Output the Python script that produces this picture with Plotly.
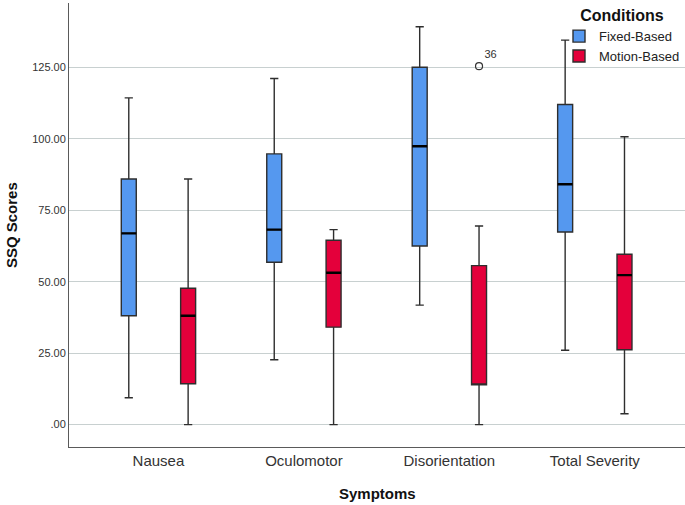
import plotly.graph_objects as go

categories = ["Nausea", "Oculomotor", "Disorientation", "Total Severity"]

fixed_low = [9.4, 22.7, 41.8, 26.0]
fixed_q1 = [38.1, 56.8, 62.5, 67.4]
fixed_median = [66.9, 68.2, 97.4, 84.1]
fixed_q3 = [85.9, 94.7, 125.0, 112.0]
fixed_high = [114.3, 121.1, 139.2, 134.5]

motion_low = [0.0, 0.0, 0.0, 3.8]
motion_q1 = [14.3, 34.1, 13.9, 26.2]
motion_median = [38.1, 53.1, None, 52.3]
motion_q3 = [47.7, 64.5, 55.6, 59.6]
motion_high = [85.9, 68.2, 69.5, 100.7]

outlier_category = 2  # Disorientation, Motion-Based
outlier_value = [125.4]
outlier_label = ["36"]

y_ticks = [0, 25, 50, 75, 100, 125]
y_ticklabels = [".00", "25.00", "50.00", "75.00", "100.00", "125.00"]

BLUE = "#5598ef"
RED = "#e4003b"
EDGE = "#2e2e2e"
OFFSET = 0.204
BOXW = 0.103
FONT = "Liberation Sans, Arial, sans-serif"

idx = list(range(len(categories)))
x_fixed = [i - OFFSET for i in idx]
x_motion = [i + OFFSET for i in idx]
motion_median_box = [m if m is not None else q for m, q in zip(motion_median, motion_q1)]

fig = go.Figure()

common = dict(width=BOXW, whiskerwidth=0.55, boxpoints=False, hoverinfo="skip",
              line=dict(color=EDGE, width=1.4))

fig.add_trace(go.Box(x=x_fixed, q1=fixed_q1, median=fixed_median, q3=fixed_q3,
                     lowerfence=fixed_low, upperfence=fixed_high,
                     fillcolor=BLUE, name="Fixed-Based", **common))
fig.add_trace(go.Box(x=x_motion, q1=motion_q1, median=motion_median_box, q3=motion_q3,
                     lowerfence=motion_low, upperfence=motion_high,
                     fillcolor=RED, name="Motion-Based", **common))

# thicker black median lines
mf_x = x_fixed
mf_y = fixed_median
mm_x = [x for x, m in zip(x_motion, motion_median) if m is not None]
mm_y = [m for m in motion_median if m is not None]
for xs, ys in ((mf_x, mf_y), (mm_x, mm_y)):
    fig.add_trace(go.Box(x=xs, q1=ys, median=ys, q3=ys, lowerfence=ys, upperfence=ys,
                         width=BOXW, whiskerwidth=0, boxpoints=False, hoverinfo="skip",
                         line=dict(color="#000000", width=2.4), fillcolor="rgba(0,0,0,0)",
                         showlegend=False))

fig.add_trace(go.Scatter(x=[outlier_category + OFFSET], y=outlier_value,
                         mode="markers+text", text=outlier_label, textposition="top right",
                         textfont=dict(family=FONT, size=11, color="#333"),
                         marker=dict(symbol="circle-open", size=7, color="#333",
                                     line=dict(width=1.2)),
                         showlegend=False, hoverinfo="skip"))

fig.update_layout(
    width=685, height=505,
    margin=dict(l=69, r=0, t=3, b=58, autoexpand=False),
    paper_bgcolor="white", plot_bgcolor="white",
    font=dict(family=FONT, color="#333"),
    boxmode="overlay",
    xaxis=dict(range=[-0.615, 3.62], tickvals=idx, ticktext=categories, automargin=False,
               showgrid=False, zeroline=False, showline=True, linecolor="#5a5a5a",
               linewidth=1, ticks="", tickfont=dict(family=FONT, size=15, color="#333")),
    yaxis=dict(range=[-7.84, 147.5], tickvals=y_ticks, ticktext=y_ticklabels, automargin=False,
               showgrid=True, gridcolor="#c8d0d0", gridwidth=1, zeroline=False,
               showline=True, linecolor="#5a5a5a", linewidth=1, ticks="",
               tickfont=dict(family=FONT, size=11, color="#333")),
    legend=dict(x=1.0, y=1.006, xanchor="right", yanchor="top",
                bgcolor="rgba(0,0,0,0)", tracegroupgap=0,
                title=dict(text="<b>Conditions</b>", side="top center",
                           font=dict(family=FONT, size=16, color="#111")),
                font=dict(family=FONT, size=13, color="#222")),
    annotations=[
        dict(text="<b>SSQ Scores</b>", xref="paper", yref="paper", x=-0.094, y=0.5,
             textangle=-90, showarrow=False, xanchor="center", yanchor="middle",
             font=dict(family=FONT, size=15, color="#111")),
        dict(text="<b>Symptoms</b>", xref="paper", yref="paper", x=0.5, y=-0.104,
             showarrow=False, xanchor="center", yanchor="middle",
             font=dict(family=FONT, size=15, color="#111")),
    ],
)

fig.write_html(
    "out.html",
    config={"displayModeBar": False},
    post_script="document.documentElement.style.margin='0';document.body.style.margin='0';document.body.style.padding='0';",
)
